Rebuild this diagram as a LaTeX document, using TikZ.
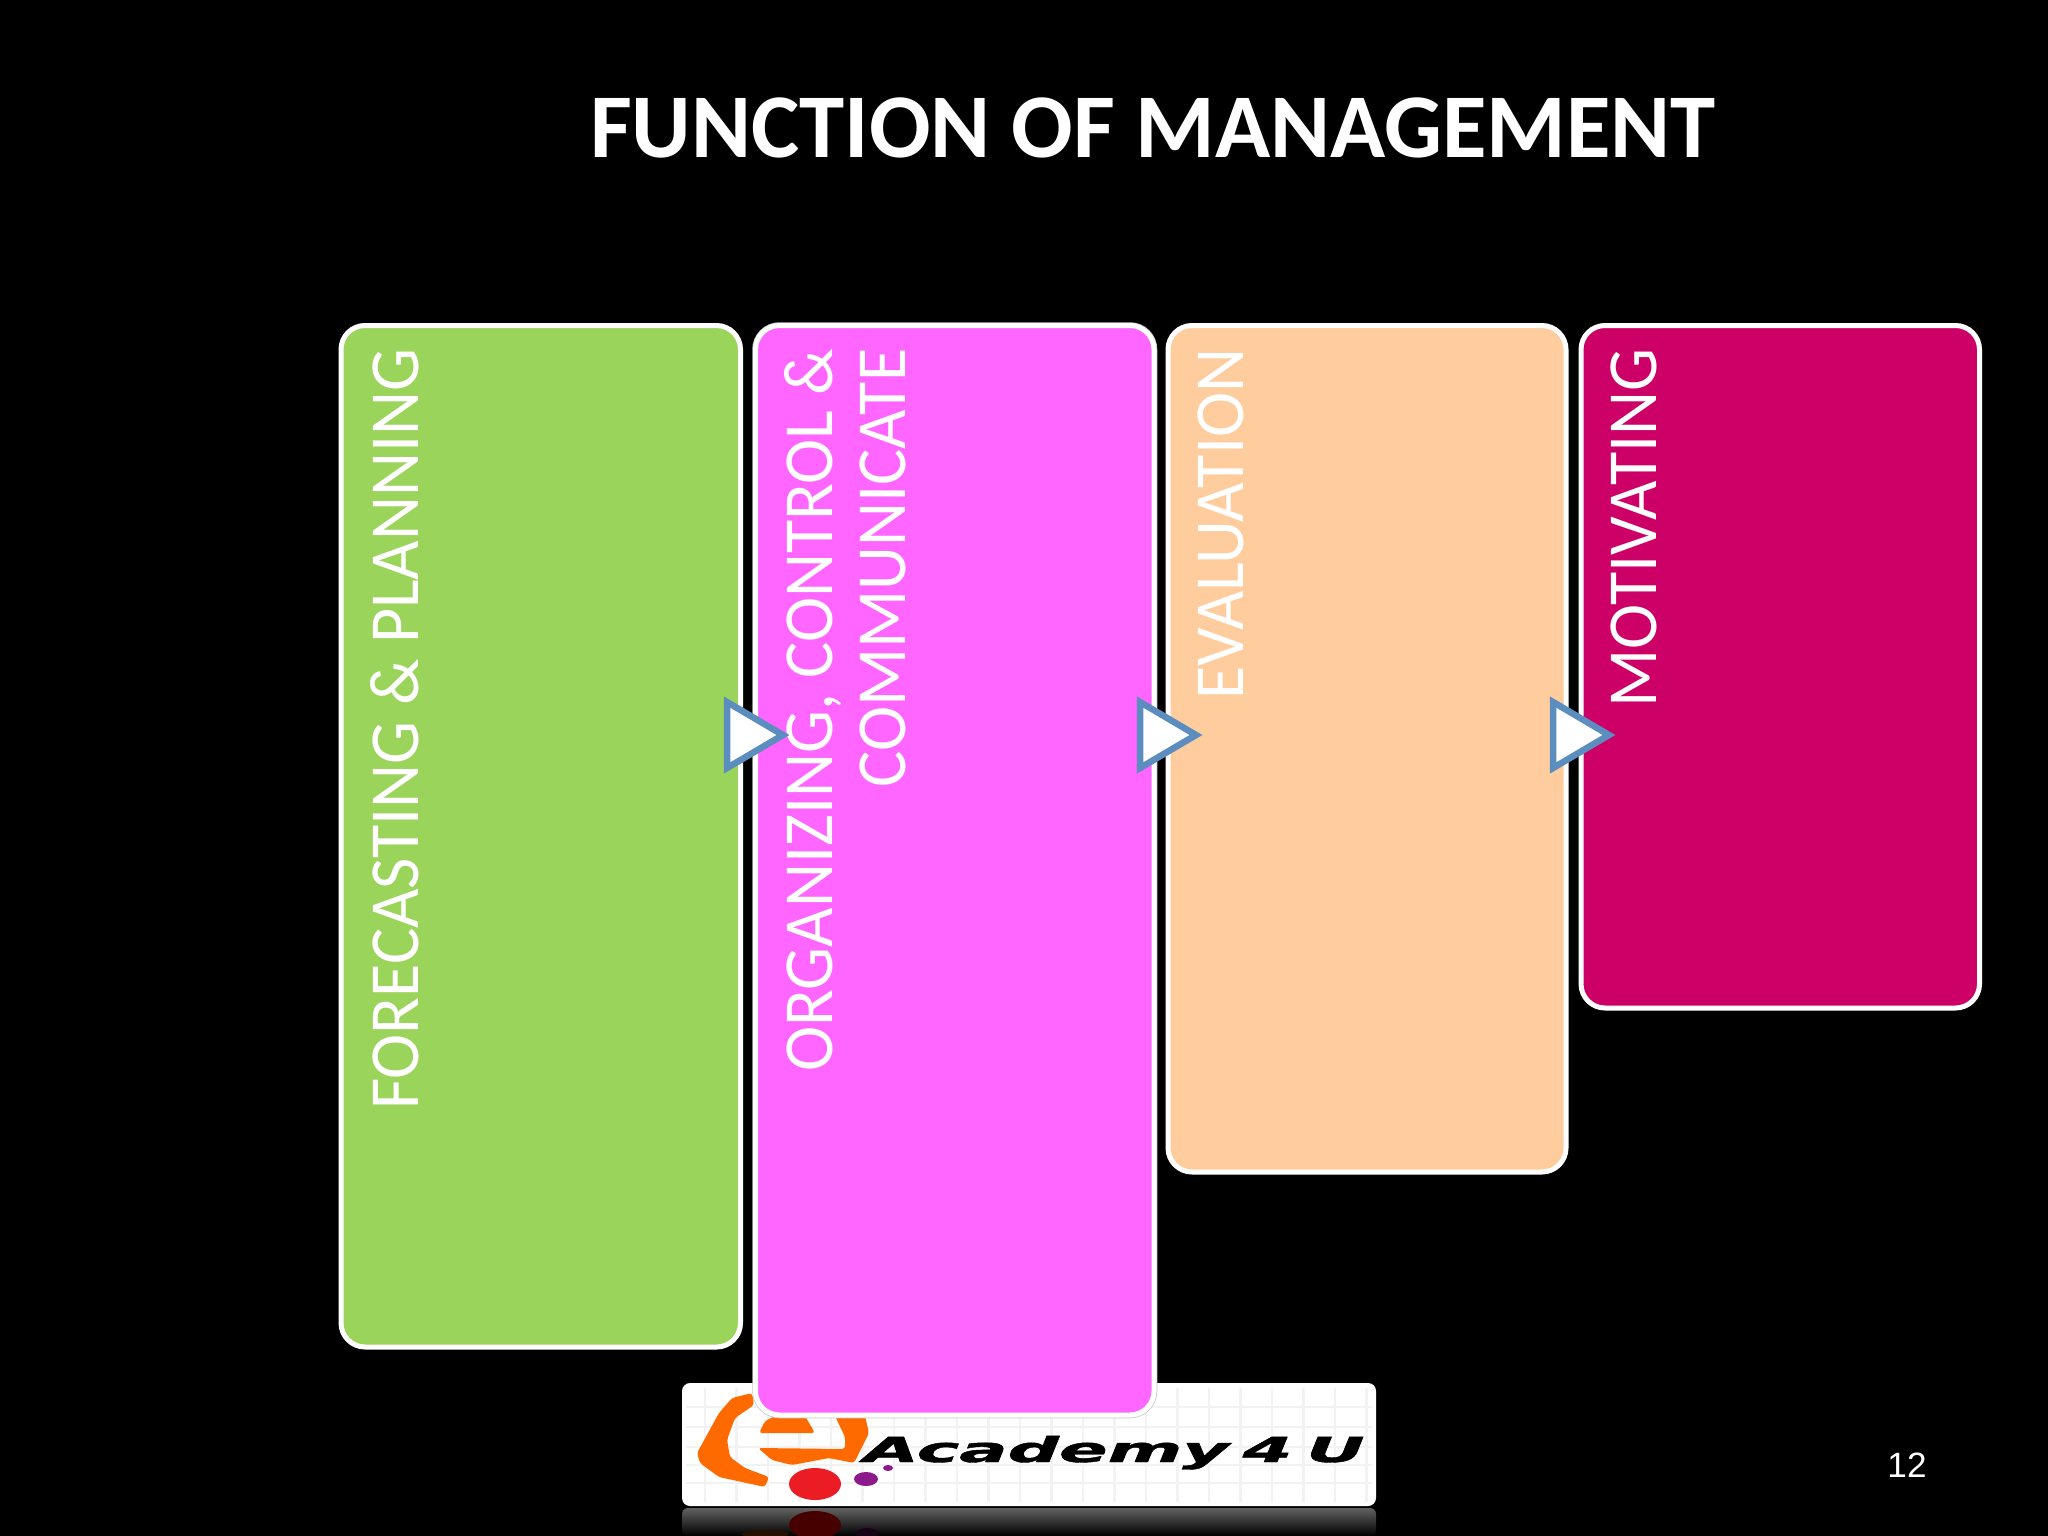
\documentclass[tikz,border=0pt]{standalone}
\usepackage{fontspec}
\setmainfont{Carlito}
\newfontfamily\vfont[FakeStretch=0.968]{Carlito}
\newfontfamily\numfont{Liberation Sans}
\newfontfamily\logofont[FakeBold=1.2,WordSpace=0.55]{DejaVu Sans}
\definecolor{cgreen}{HTML}{9BD45B}
\definecolor{cpink}{HTML}{FF66FF}
\definecolor{cpeach}{HTML}{FFCC9E}
\definecolor{ccrim}{HTML}{CC0066}
\definecolor{carrow}{HTML}{5B8DBE}
\definecolor{logoorange}{HTML}{FF6A00}
\definecolor{logored}{HTML}{EC1C24}
\definecolor{logopurple}{HTML}{8B1A8B}
\tikzset{
  x=0.01cm,y=-0.01cm,
  panel/.style={draw=white,line width=0.5mm,rounded corners=0.24cm},
  vlabel/.style={rotate=90,text=white,font=\vfont\fontsize{20}{20.7}\selectfont,align=right,anchor=north east,inner sep=0pt},
  tri/.style={draw=carrow,fill=white,line width=0.65mm,line join=miter},
  logoshape/.style={fill=logoorange,rounded corners=0.03cm},
}
\begin{document}
\begin{tikzpicture}
\useasboundingbox (0,0) rectangle (2048,1536);
\fill[black] (0,0) rectangle (2048,1536);
\node[text=white,font=\fontsize{25.9}{30}\selectfont\bfseries,anchor=base] (title) at (1153,157) {FUNCTION OF MANAGEMENT};
% reflection
\shade[top color=black!62,bottom color=black,rounded corners=0.06cm] (682,1508) rectangle (1376,1536);
\fill[black!72!red] (815,1525) ellipse [x radius=26,y radius=14];
\fill[black!85!logopurple] (867,1534) ellipse [x radius=12,y radius=6];
\fill[black!85!logoorange] (765,1534) ellipse [x radius=24,y radius=4];
% logo
\fill[white,rounded corners=0.08cm] (682,1383) rectangle (1376,1506);
\foreach \i in {0,...,21} \draw[black!5,line width=0.25mm] ({705+\i*31.5},1388) -- ({705+\i*31.5},1502);
\foreach \yy in {1407,1427,1447,1465,1483} \draw[black!5,line width=0.25mm] (686,\yy) -- (1372,\yy);
\fill[logoshape] (752,1393) -- (732,1398) -- (719,1413) -- (697,1453) -- (700,1463) -- (719,1477) -- (765,1487) -- (769,1477) -- (745,1468) -- (730,1457) -- (727,1440) -- (735,1418) -- (754,1405) -- cycle;
\fill[logoshape] (759,1433) -- (765,1421) -- (775,1416) -- (805,1416) -- (815,1433) -- cycle;
\fill[logoshape] (758,1448) -- (845,1449) -- (845,1437) -- (835,1416) -- (865,1416) -- (869,1433) -- (854,1463) -- (829,1458) -- (792,1465) -- (772,1460) -- cycle;
\fill[logored] (815,1484) ellipse [x radius=26,y radius=16];
\fill[logopurple] (866,1479) ellipse [x radius=12,y radius=7];
\fill[logopurple] (888,1468) ellipse [x radius=5,y radius=3];
\node[font=\logofont\bfseries\itshape\fontsize{9.8}{10}\selectfont,anchor=base west,inner sep=0pt,xscale=2.08] (logotext) at (862,1462) {Academy 4 U};
% panels
\draw[panel,fill=cgreen] (341,325.5) rectangle (740.5,1347);
\draw[draw=black!22,line width=0.65mm,rounded corners=0.24cm] (755.5,325.5) rectangle (1154,1415);
\draw[panel,fill=cpink] (755.5,325.5) rectangle (1154,1415);
\draw[panel,fill=cpeach] (1168,325.5) rectangle (1566,1172);
\draw[panel,fill=ccrim] (1581,325.5) rectangle (1979.5,1008);
\node[vlabel] (a) at (370,348) {FORECASTING \& PLANNING};
\node[vlabel] (b) at (784,348) {ORGANIZING, CONTROL \&\\COMMUNICATE};
\node[vlabel] (c) at (1197,348) {EVALUATION};
\node[vlabel] (d) at (1610,348) {MOTIVATING};
\foreach \dx in {0,413,826}
  \draw[tri] ({727+\dx},702) -- ({783+\dx},735) -- ({727+\dx},768) -- cycle;
\node[text=white,font=\numfont\fontsize{10}{12}\selectfont,anchor=base] (num) at (1907,1477) {12};
\end{tikzpicture}
\end{document}
